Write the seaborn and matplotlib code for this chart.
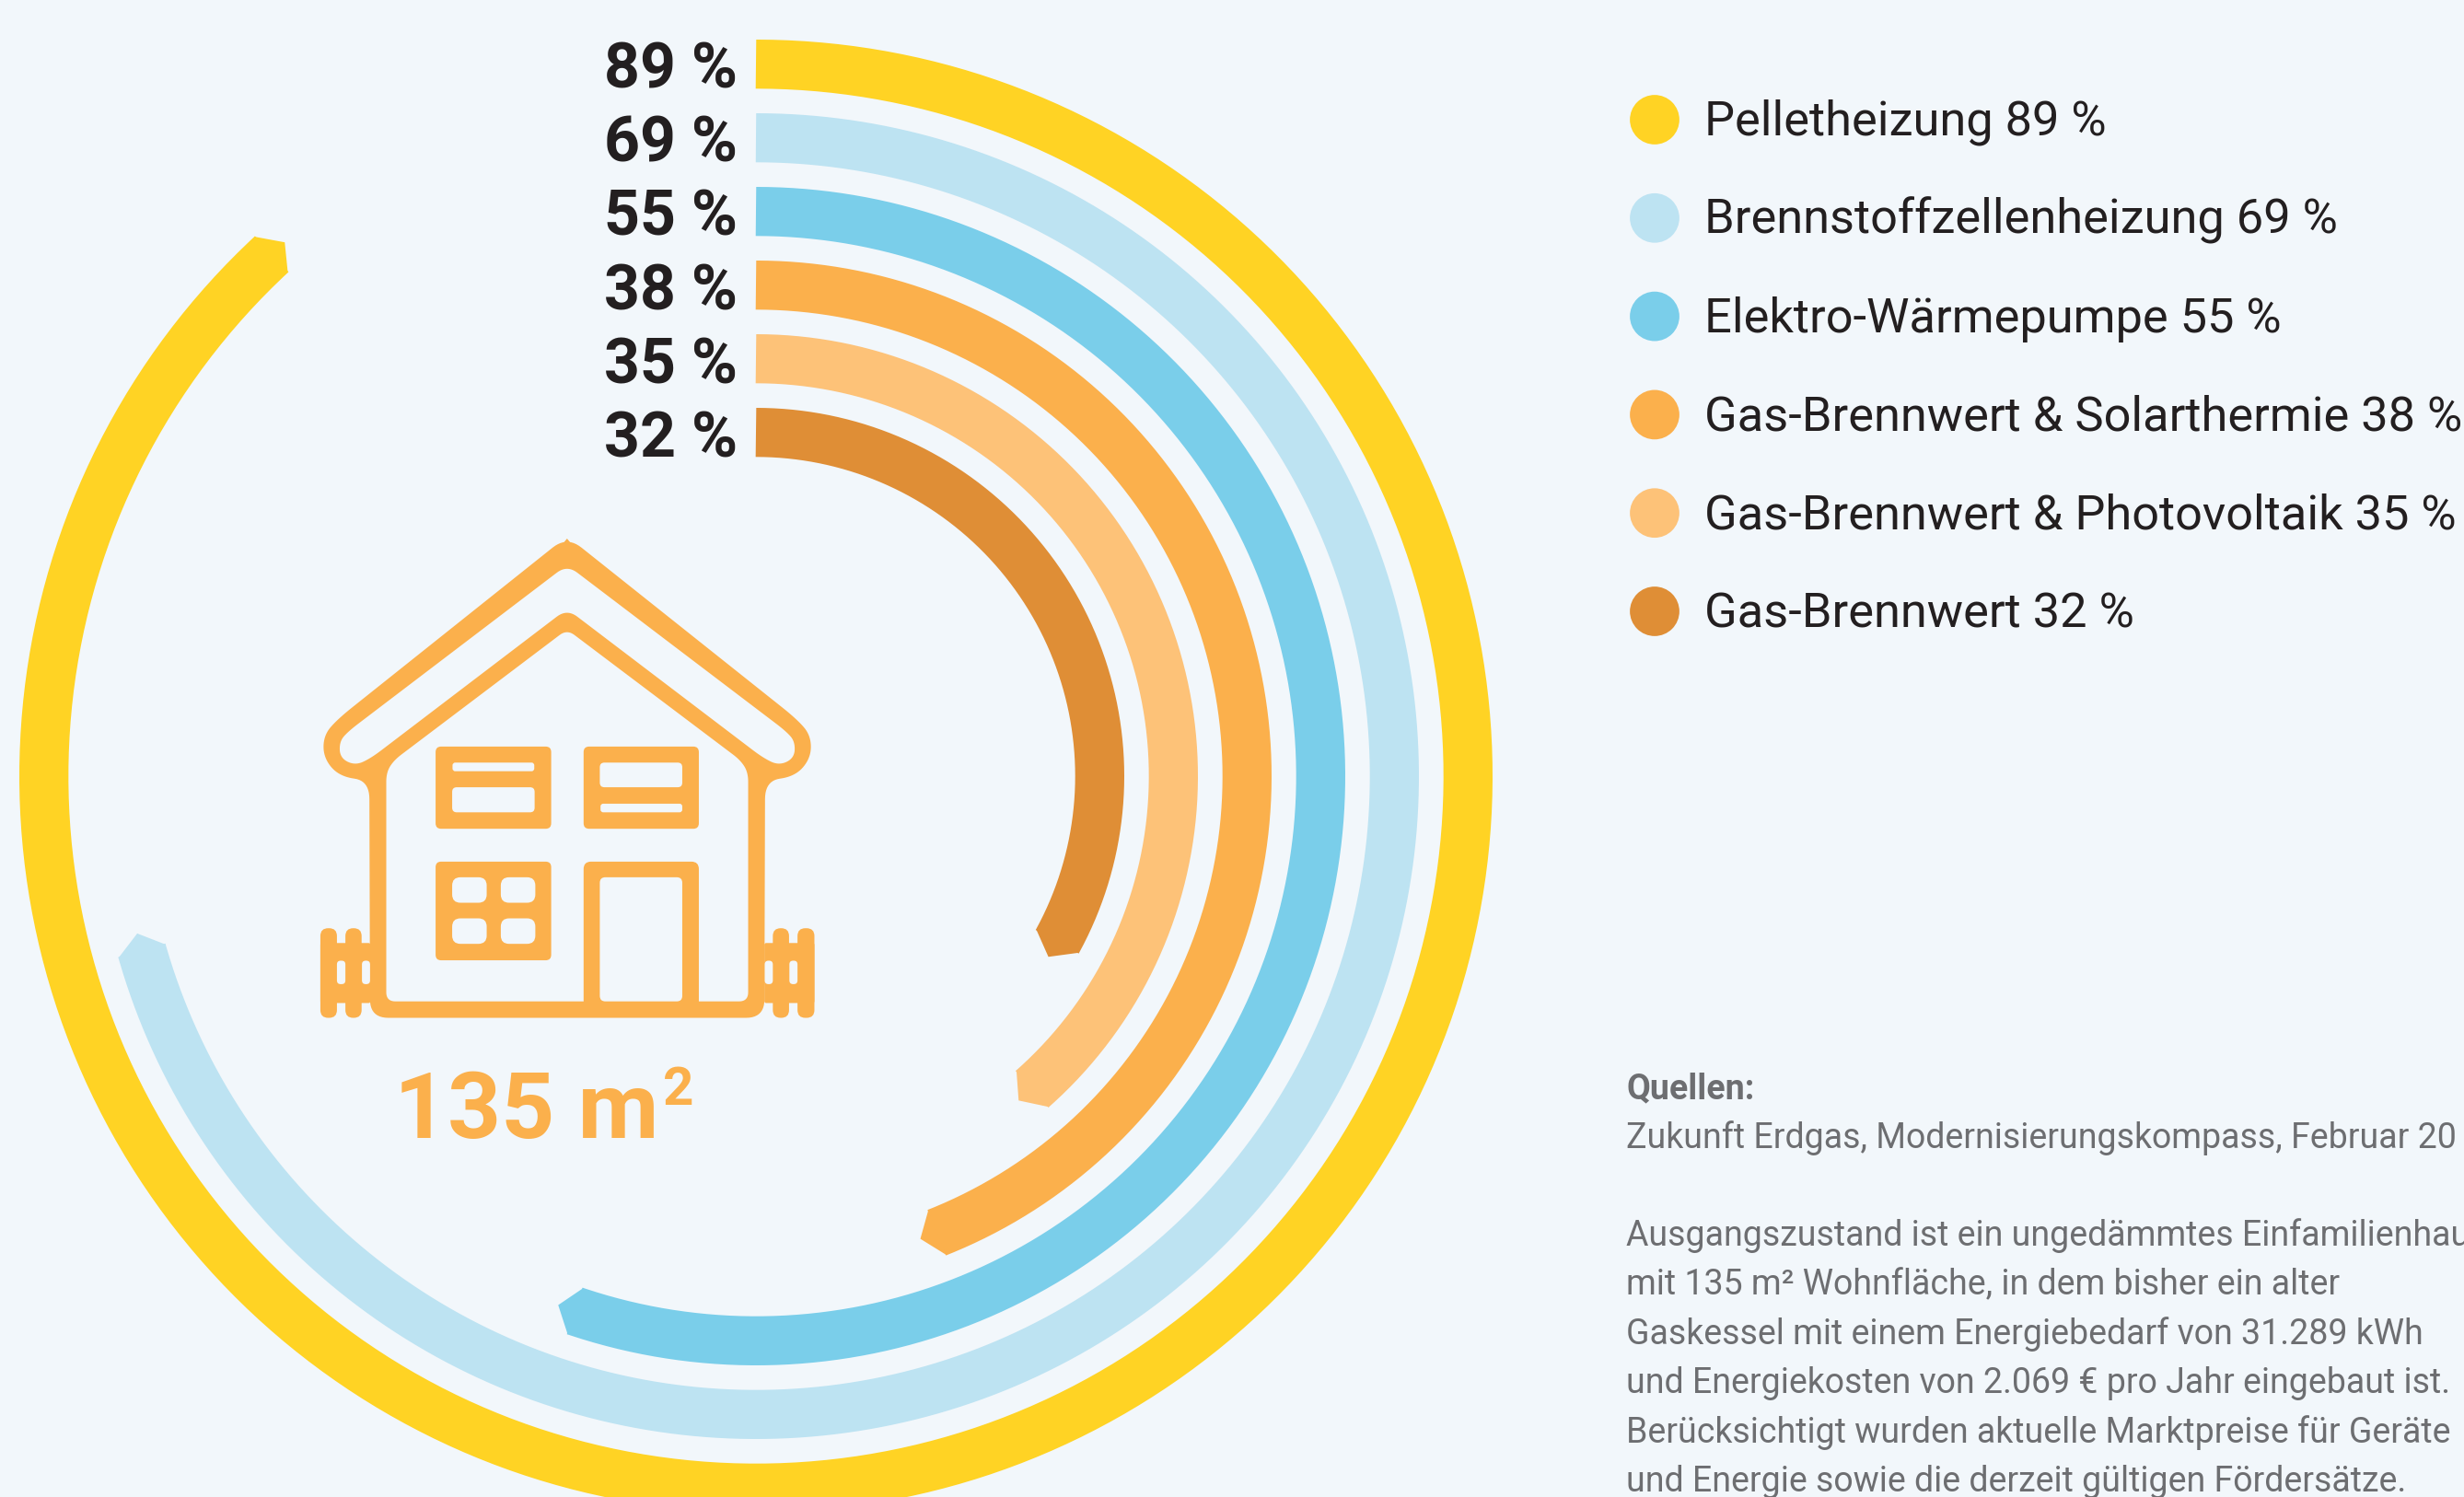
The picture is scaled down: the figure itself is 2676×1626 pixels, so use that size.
import numpy as np
import pandas as pd
import matplotlib.pyplot as plt
import seaborn as sns
from matplotlib.patches import FancyBboxPatch, Polygon

# Werte aus dem Bild
heating_types = ["Pelletheizung", "Brennstoffzellenheizung", "Elektro-Wärmepumpe",
                 "Gas-Brennwert & Solarthermie", "Gas-Brennwert & Photovoltaik", "Gas-Brennwert"]
percent_values = [89, 69, 55, 38, 35, 32]
# Ende der gezeichneten Boegen in % des Vollkreises
arc_share = [88.1, 70.6, 55.2, 44.0, 38.5, 33.0]
ring_colors = ["#FFD324", "#BDE3F2", "#7ACEEA", "#FBB04C", "#FDC278", "#DF8E36"]

source_lines = ["Zukunft Erdgas, Modernisierungskompass, Februar 20"]
note_lines = ["Ausgangszustand ist ein ungedämmtes Einfamilienhaus",
              "mit 135 m² Wohnfläche, in dem bisher ein alter",
              "Gaskessel mit einem Energiebedarf von 31.289 kWh",
              "und Energiekosten von 2.069 € pro Jahr eingebaut ist.",
              "Berücksichtigt wurden aktuelle Marktpreise für Geräte",
              "und Energie sowie die derzeit gültigen Fördersätze."]

BG = "#F2F7FB"
ORANGE = "#FBB04C"
DARK = "#231F20"
GREY = "#6D6E71"

sns.set_theme(style="white")
plt.rcParams["font.family"] = ["Roboto", "DejaVu Sans"]

W, H = 2676, 1626
fig = plt.figure(figsize=(W / 100, H / 100), dpi=100, facecolor=BG)

# Ringe im Polardiagramm
cx, cy, rmax = 821, 843, 810
ax = fig.add_axes([(cx - rmax) / W, (H - cy - rmax) / H, 2 * rmax / W, 2 * rmax / H], projection="polar")
ax.set_theta_zero_location("N")
ax.set_theta_direction(-1)

ring_width = 53.3
palette = sns.color_palette(ring_colors)
for i, share in enumerate(arc_share):
    r_mid = 800 - 80 * i - ring_width / 2
    end = 2 * np.pi * share / 100
    arc = pd.DataFrame({"theta": np.linspace(0, end, 500), "r": r_mid})
    sns.lineplot(data=arc, x="theta", y="r", color=palette[i], lw=ring_width * 0.72,
                 estimator=None, sort=False, ax=ax, solid_capstyle="butt")
    # kleine Spitze am Bogenende
    back = 1.0 / r_mid
    ax.fill([end - back, end + 19 / r_mid, end - back],
            [r_mid + ring_width / 2, r_mid, r_mid - ring_width / 2], color=palette[i], lw=0)

ax.set_xlim(0, 2 * np.pi)
ax.set_ylim(0, rmax)
ax.set_axis_off()

# Ebene in Bildpixeln fuer Texte, Legende und Haus
ov = fig.add_axes([0, 0, 1, 1])
ov.set_xlim(0, W)
ov.set_ylim(H, 0)
ov.set_axis_off()
ov.patch.set_alpha(0)

for i, pct in enumerate(percent_values):
    ov.text(801, 95.5 + 80.2 * i, f"{pct} %", ha="right", va="baseline", fontsize=49, fontweight="bold", color=DARK)

legend_df = pd.DataFrame({"x": 1797.0, "y": [130 + 106.8 * i for i in range(6)], "name": heating_types})
sns.scatterplot(data=legend_df, x="x", y="y", hue="name", palette=ring_colors, s=1497, linewidth=0,
                legend=False, ax=ov)
ov.set_xlim(0, W)
ov.set_ylim(H, 0)
for i, (name, pct) in enumerate(zip(heating_types, percent_values)):
    ov.text(1851, 130 + 106.8 * i + 17, f"{name} {pct} %", ha="left", va="baseline", fontsize=37.7, color=DARK)

ov.text(1766, 1193, "Quellen:", fontsize=27, fontweight="bold", color=GREY, va="baseline")
for line in source_lines:
    ov.text(1766, 1246.5, line, fontsize=27, color=GREY, va="baseline")
for i, line in enumerate(note_lines):
    ov.text(1766, 1353 + 53.4 * i, line, fontsize=27, color=GREY, va="baseline")

ov.text(428, 1236, "135 m", fontsize=73, fontweight="bold", color=ORANGE, va="baseline")
ov.text(720, 1200, "2", fontsize=42, fontweight="bold", color=ORANGE, va="baseline")


# Haus-Symbol
def hp(X, Y):
    return (320 + X / 2.613, 560 + Y / 2.24)


def rounded(points, d):
    # Ecken mit kurzen Bezier-Stuecken abrunden
    pts = [np.array(hp(*p)) for p in points]
    out = []
    n = len(pts)
    for i in range(n):
        p0, p1, p2 = pts[i - 1], pts[i], pts[(i + 1) % n]
        d0 = min(d, np.linalg.norm(p0 - p1) / 2)
        d2 = min(d, np.linalg.norm(p2 - p1) / 2)
        a = p1 + (p0 - p1) / np.linalg.norm(p0 - p1) * d0
        b = p1 + (p2 - p1) / np.linalg.norm(p2 - p1) * d2
        for t in np.linspace(0, 1, 12):
            out.append((1 - t) ** 2 * a + 2 * t * (1 - t) * p1 + t ** 2 * b)
    return out


def poly(points, color, d=12):
    ov.add_patch(Polygon(rounded(points, d), closed=True, facecolor=color, edgecolor="none", zorder=3))


def box(x0, y0, x1, y1, color, rad=6, z=3):
    a, b = hp(x0, y0), hp(x1, y1)
    ov.add_patch(FancyBboxPatch(a, b[0] - a[0], b[1] - a[1], boxstyle=f"round,pad=0,rounding_size={rad}",
                                facecolor=color, edgecolor="none", zorder=z))


def mirror(points):
    return [(1547 - x, y) for x, y in reversed(points)]


# Dach und Waende
right_outer = [(773, 50), (1425, 495), (1465, 535), (1465, 590), (1420, 635), (1335, 645), (1333, 1222)]
ov_outer = right_outer + mirror(right_outer)[:-1]
ov.add_patch(Polygon(rounded(ov_outer, 20), closed=True, facecolor=ORANGE, edgecolor="none", zorder=3))
ov.add_patch(Polygon([hp(745, 85), hp(773, 56), hp(801, 85)], closed=True, facecolor=ORANGE, edgecolor="none", zorder=3))

right_hole = [(773, 120), (1395, 525), (1420, 550), (1418, 590), (1375, 608), (1330, 590), (773, 227)]
poly(right_hole + mirror(right_hole)[1:-1], BG, d=14)

right_room = [(773, 277), (1265, 595), (1287, 625), (1287, 1182)]
poly(right_room + mirror(right_room)[:-1], BG, d=10)

# Fenster
box(400, 562, 728, 762, ORANGE)
box(448, 601, 680, 622, BG, 3, 4)
box(447, 661, 681, 722, BG, 5, 4)
box(820, 562, 1147, 762, ORANGE)
box(866, 601, 1100, 661, BG, 5, 4)
box(868, 701, 1100, 722, BG, 3, 4)
box(400, 842, 728, 1082, ORANGE)
for x0, x1 in [(447, 545), (585, 683)]:
    for y0, y1 in [(880, 942), (980, 1042)]:
        box(x0, y0, x1, y1, BG, 9, 4)

# Tuer
box(820, 842, 1147, 1210, ORANGE, 8)
box(866, 880, 1100, 1182, BG, 6, 4)

# Zaun links und rechts
for x_band, pickets, holes in [((73, 215), [(73, 120), (144, 190)], [(120, 144), (191, 214)]),
                               ((1333, 1475), [(1357, 1403), (1427, 1475)], [(1334, 1357), (1404, 1427)])]:
    box(x_band[0], 1040, x_band[1], 1186, ORANGE, 2)
    for x0, x1 in pickets:
        box(x0, 1004, x1, 1222, ORANGE, 8.5)
    for x0, x1 in holes:
        box(x0, 1083, x1, 1140, BG, 4, 4)

plt.savefig("out.png", dpi=100, facecolor=BG)
